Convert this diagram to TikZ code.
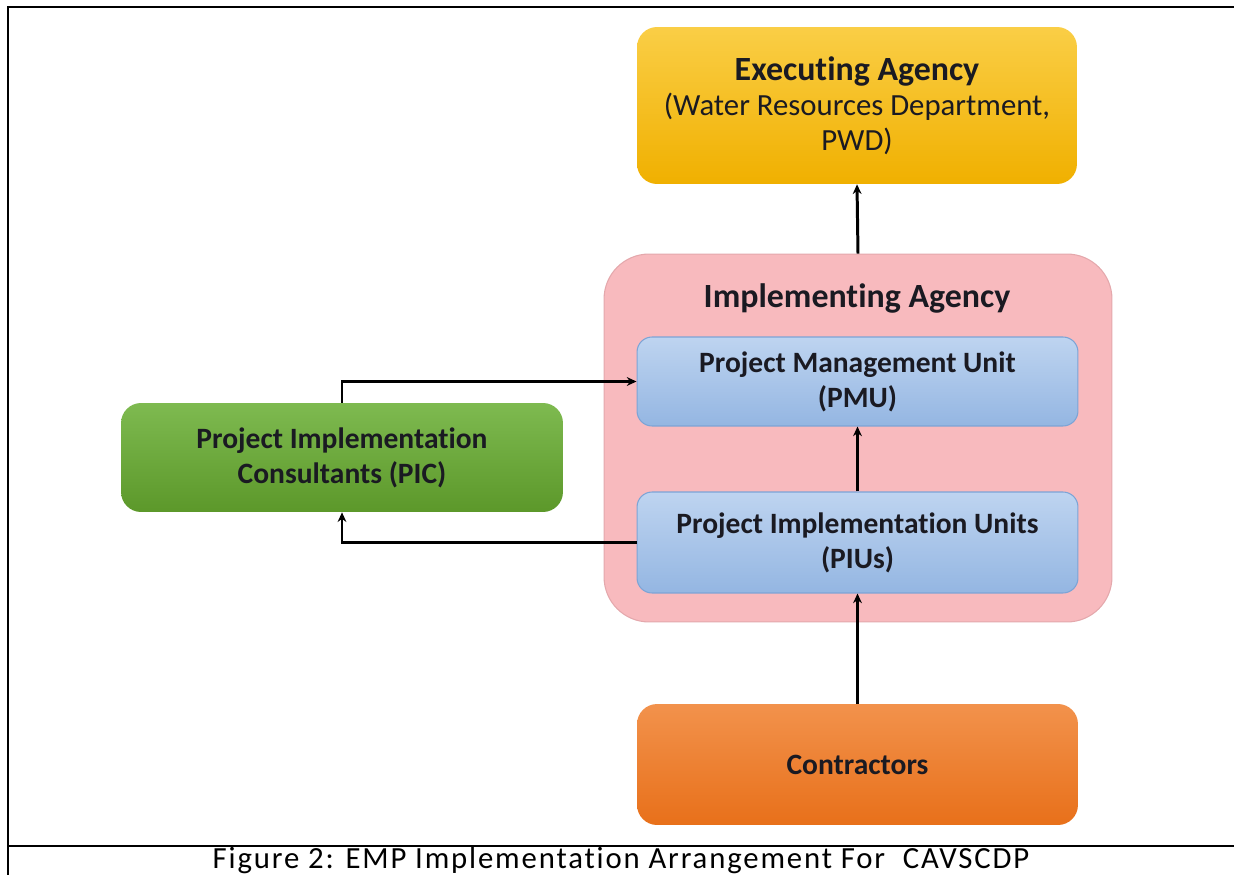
\documentclass[tikz,border=0pt]{standalone}
\usepackage{fontspec}
\setmainfont{Carlito}[Ligatures=NoCommon]
\usetikzlibrary{arrows,arrows.meta,positioning,shapes,backgrounds}

\definecolor{execTop}{RGB}{250,206,70}
\definecolor{execBot}{RGB}{240,176,0}
\definecolor{implFill}{RGB}{248,186,190}
\definecolor{implLine}{RGB}{228,168,172}
\definecolor{unitTop}{RGB}{190,212,240}
\definecolor{unitBot}{RGB}{148,182,226}
\definecolor{unitLine}{RGB}{124,164,214}
\definecolor{picTop}{RGB}{126,186,80}
\definecolor{picBot}{RGB}{92,152,42}
\definecolor{conTop}{RGB}{242,146,76}
\definecolor{conBot}{RGB}{232,112,26}
\definecolor{inkText}{RGB}{26,26,34}

\begin{document}
\begin{tikzpicture}[x=0.02cm,y=-0.02cm]

		\tikzstyle{box}=[rectangle,rounded corners=0.4cm,align=center,text=inkText,font=\fontsize{16.8}{20}\selectfont]
		\tikzstyle{execbox}=[box,minimum width=8.8cm,minimum height=3.14cm,top color=execTop,bottom color=execBot]
		\tikzstyle{implbox}=[rectangle,rounded corners=0.9cm,minimum width=10.16cm,minimum height=7.36cm,fill=implFill,draw=implLine,line width=0.6pt]
		\tikzstyle{unitbox}=[box,rounded corners=0.3cm,minimum width=8.82cm,top color=unitTop,bottom color=unitBot,draw=unitLine,line width=0.6pt]
		\tikzstyle{picbox}=[box,minimum width=8.84cm,minimum height=2.18cm,top color=picTop,bottom color=picBot]
		\tikzstyle{conbox}=[box,minimum width=8.82cm,minimum height=2.42cm,top color=conTop,bottom color=conBot]
		\tikzstyle{link}=[line width=1.7pt,-{Stealth[length=5.5pt,width=5pt]}]
		\tikzstyle{thinrule}=[line width=0.6pt]
		\tikzstyle{thickrule}=[line width=1.5pt]
		\newcommand{\headtext}[1]{{\fontsize{19.3}{20}\selectfont\textbf{#1}}}
		
		\path[use as bounding box,clip] (0,0) rectangle (1234,875);
		
		% frame
		\draw[thickrule] (7,7) -- (104,7);
		\draw[thinrule] (104,7) -- (1142,7);
		\draw[thickrule] (1142,7) -- (1234,7);
		\draw[thickrule] (8,7) -- (8,875);
		\draw[thickrule] (7,846) -- (104,846);
		\draw[thinrule] (104,846) -- (1142,846);
		\draw[thickrule] (1142,846) -- (1234,846);
		
		\node[execbox,font=\fontsize{17.5}{20}\selectfont] (exec) at (857,105.5) {\headtext{Executing Agency}\\(Water Resources Department,\\PWD)};
		\node[implbox] (impl) at (858,438) {};
		\node[box] (impltitle) at (857,298) {\headtext{Implementing Agency}};
		\node[unitbox,minimum height=1.78cm] (pmu) at (857.5,381.5) {\textbf{Project Management Unit}\\\textbf{(PMU)}};
		\node[unitbox,minimum height=2.02cm] (piu) at (857.5,542.5) {\textbf{Project Implementation Units}\\\textbf{(PIUs)}};
		\node[picbox] (pic) at (342,457.5) {\textbf{Project Implementation}\\\textbf{Consultants (PIC)}};
		\node[conbox] (con) at (857.5,764.5) {\textbf{Contractors}};
		
		\draw[link] (impl.north) -- (exec.south);
		\draw[link] (piu.north) -- (pmu.south);
		\draw[link] (con.north) -- (piu.south);
		\draw[link] (pic.north) |- (pmu.west);
		\draw[link] (piu.west) -| (pic.south);
		
		\node[anchor=base,font=\fontsize{17.5}{20}\selectfont\addfontfeatures{LetterSpace=6}] (caption) at (621,868) {Figure 2: EMP Implementation Arrangement For~~CAVSCDP};
		
\end{tikzpicture}
\end{document}
